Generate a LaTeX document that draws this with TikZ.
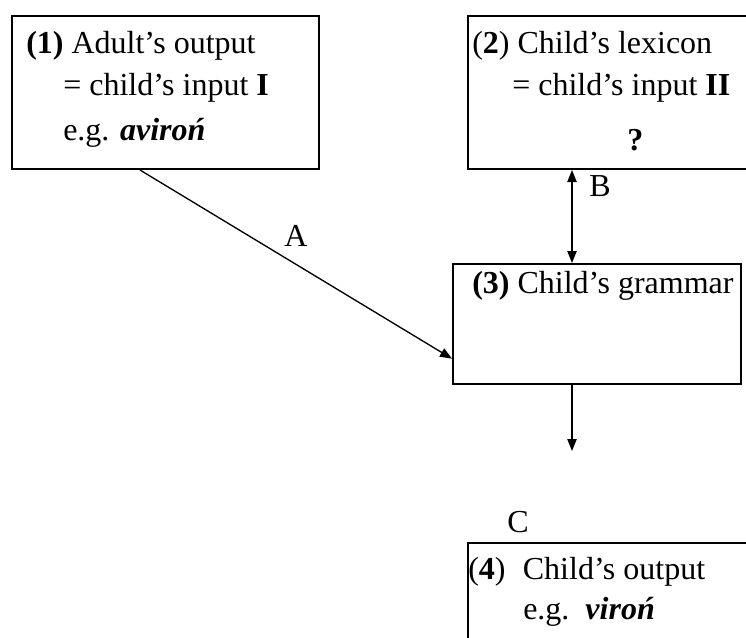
\documentclass[tikz,border=0pt]{standalone}
\usepackage{fontspec}
\setmainfont{Liberation Serif}
\usetikzlibrary{arrows.meta}
\tikzset{
    box/.style={draw, line width=1.5pt, inner sep=0pt, anchor=north west},
    txt/.style={anchor=base west, inner sep=0pt, font=\fontsize{24}{29}\selectfont},
    lbl/.style={inner sep=0pt, font=\fontsize{24}{29}\selectfont},
    arr/.style={line width=1pt, -{Triangle[length=9pt, width=7pt]}},
    arrboth/.style={line width=1pt, {Triangle[length=9pt, width=7pt]}-{Triangle[length=9pt, width=7pt]}}
}

\begin{document}
\begin{tikzpicture}[x=0.75pt, y=-0.75pt]
            \useasboundingbox (0,0) rectangle (746,637);
            \clip (0,0) rectangle (746,637);
            \node[box, minimum width=230.25pt, minimum height=114.75pt] (b1) at (11,15) {};
            \node[box, minimum width=249.75pt, minimum height=114.75pt] (b2) at (467,15) {};
            \node[box, minimum width=216pt, minimum height=90pt] (b3) at (452,263) {};
            \node[box, minimum width=249.75pt, minimum height=112.5pt] (b4) at (467,542) {};
            \node[txt] (t1a) at (26,53) {\textbf{(1)} Adult’s output};
            \node[txt] (t1b) at (63,95) {= child’s input \textbf{I}};
            \node[txt] (t1c) at (63,140) {e.g. \textbf{\textit{aviroń}}};
            \node[txt] (t2a) at (472,53) {(\textbf{2}) Child’s lexicon};
            \node[txt] (t2b) at (512,95) {= child’s input \textbf{II}};
            \node[txt] (t2c) at (627,150) {\textbf{?}};
            \node[txt] (t3) at (472,293) {\textbf{(3)} Child’s grammar};
            \node[txt] (t4a) at (468,579) {(\textbf{4})\hspace{13pt}Child’s output};
            \node[txt] (t4b) at (523,619) {e.g.\hspace{12pt}\textbf{\textit{viroń}}};
            \node[lbl] (la) at (296,236) {A};
            \node[lbl] (lb) at (600,186) {B};
            \node[lbl] (lc) at (518,522) {C};
            \coordinate (bx) at (572,0);
            \coordinate (cend) at (572,451);
            \draw[arr] ([xshift=96.75pt]b1.south west) -- ([yshift=-26pt]b3.west);
            \draw[arrboth] (b2.south -| bx) -- (b3.north -| bx);
            \draw[arr] (b3.south -| bx) -- (cend);
        \end{tikzpicture}
\end{document}
